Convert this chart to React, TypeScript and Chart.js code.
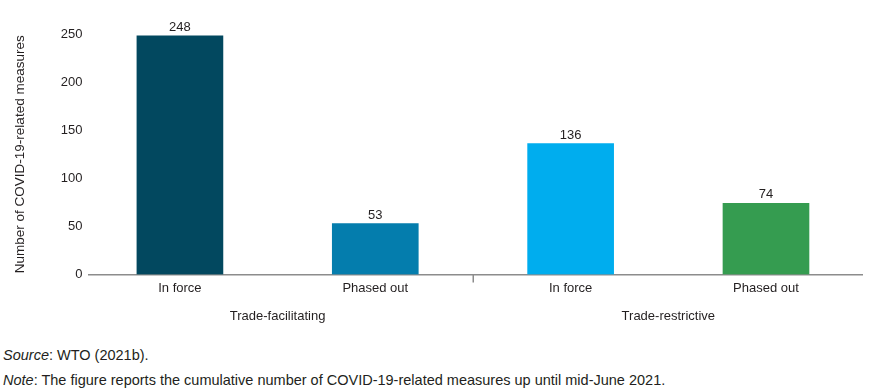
import React, { useEffect, useRef } from "react";
import { Chart, registerables } from "chart.js";

Chart.register(...registerables);

// ---- data ----
const categories = ["In force", "Phased out", "In force", "Phased out"];
const values = [248, 53, 136, 74];
const groupNames = ["Trade-facilitating", "Trade-restrictive"];
const groupOf = [0, 0, 1, 1];
const yTicks = [0, 50, 100, 150, 200, 250];
const barColors = ["#02485f", "#047dad", "#00adee", "#359c50"];

const yTitle = "Number of COVID-19-related measures";
const sourceLabel = "Source";
const sourceText = ": WTO (2021b).";
const noteLabel = "Note";
const noteText =
  ": The figure reports the cumulative number of COVID-19-related measures up until mid-June 2021.";

const TEXT = "#231f20";
const AXIS = "#8c8c8c";
const FONT = '"Liberation Sans", Arial, sans-serif';

const annotationsPlugin = {
  id: "annotations",
  afterDatasetsDraw(chart: any) {
    const { ctx, chartArea, scales } = chart;
    const meta = chart.getDatasetMeta(0);
    ctx.save();
    ctx.font = `13px ${FONT}`;
    ctx.fillStyle = TEXT;
    ctx.textAlign = "center";
    ctx.textBaseline = "alphabetic";
    meta.data.forEach((bar: any, i: number) => {
      ctx.fillText(String(values[i]), bar.x, bar.y - 5);
    });
    groupNames.forEach((name, gi) => {
      const idx = groupOf.map((g, i) => (g === gi ? i : -1)).filter((i) => i >= 0);
      const mid = idx.reduce((a, b) => a + b, 0) / idx.length;
      const x = scales.x.getPixelForValue(mid);
      ctx.fillText(name, x, chartArea.bottom + 45.5);
    });
    // dividers between groups
    ctx.strokeStyle = AXIS;
    ctx.lineWidth = 1.5;
    for (let i = 1; i < groupOf.length; i++) {
      if (groupOf[i] !== groupOf[i - 1]) {
        const dx = Math.round(scales.x.getPixelForValue(i - 0.5)) + 0.25;
        ctx.beginPath();
        ctx.moveTo(dx, chartArea.bottom);
        ctx.lineTo(dx, chartArea.bottom + 8);
        ctx.stroke();
      }
    }
    ctx.restore();
  },
};

export default function App() {
  const ref = useRef<HTMLCanvasElement | null>(null);

  useEffect(() => {
    if (!ref.current) return;
    const chart = new Chart(ref.current, {
      type: "bar",
      data: {
        datasets: [
          {
            data: values.map((v, i) => ({ x: i, y: v })),
            backgroundColor: barColors,
            barThickness: 86,
            borderWidth: 0,
          },
        ],
      },
      options: {
        animation: false,
        responsive: false,
        devicePixelRatio: 1,
        layout: { padding: { left: 0, right: 7, top: 34, bottom: 0 } },
        plugins: {
          legend: { display: false },
          tooltip: { enabled: false },
        },
        scales: {
          x: {
            type: "linear",
            offset: false,
            min: -0.468,
            max: 3.4915,
            grid: { display: false, drawTicks: false, offset: false },
            border: { display: true, color: AXIS, width: 1.5 },
            afterFit: (scale: any) => {
              scale.height = 60.5;
            },
            ticks: {
              stepSize: 1,
              includeBounds: false,
              autoSkip: false,
              maxRotation: 0,
              padding: 6,
              color: TEXT,
              font: { size: 13, family: FONT },
              callback: (v: any) =>
                Number.isInteger(v) && categories[v] !== undefined ? categories[v] : "",
            },
          },
          y: {
            min: 0,
            max: 250,
            grid: { display: false, drawTicks: false },
            border: { display: false },
            afterFit: (scale: any) => {
              scale.width = 88.5;
            },
            afterBuildTicks: (scale: any) => {
              scale.ticks = yTicks.map((v) => ({ value: v }));
            },
            ticks: {
              padding: 6,
              color: TEXT,
              font: { size: 13, family: FONT },
            },
            title: {
              display: true,
              text: yTitle,
              color: TEXT,
              font: { size: 13.5, family: FONT },
              padding: { top: 12, bottom: 0 },
            },
          },
        },
      },
      plugins: [annotationsPlugin],
    } as any);
    return () => chart.destroy();
  }, []);

  const noteStyle: React.CSSProperties = {
    position: "absolute",
    left: 3,
    fontFamily: FONT,
    fontSize: 14.5,
    lineHeight: "16px",
    color: TEXT,
    whiteSpace: "nowrap",
  };

  return (
    <div style={{ position: "absolute", left: 0, top: 0, width: 869, height: 392, background: "#fff" }}>
      <canvas ref={ref} width={869} height={335} style={{ display: "block", width: 869, height: 335 }} />
      <div style={{ ...noteStyle, top: 347 }}>
        <i>{sourceLabel}</i>
        {sourceText}
      </div>
      <div style={{ ...noteStyle, top: 372 }}>
        <i>{noteLabel}</i>
        {noteText}
      </div>
    </div>
  );
}
